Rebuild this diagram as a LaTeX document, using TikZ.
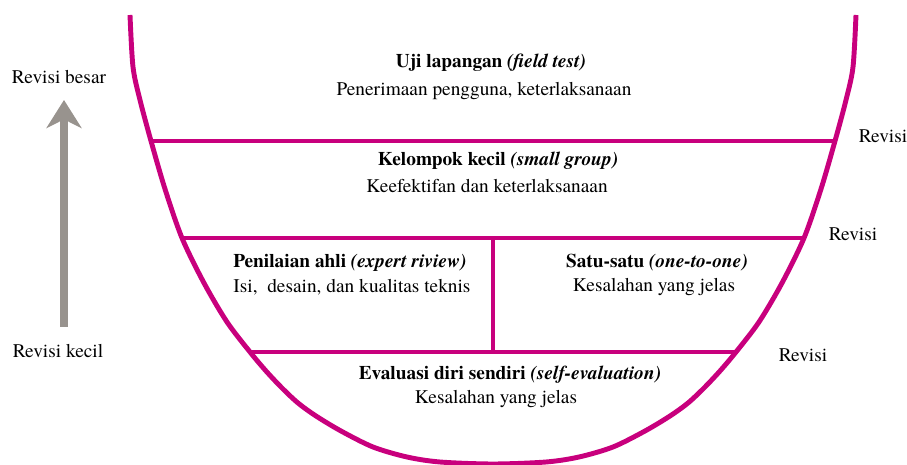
\documentclass[tikz,border=0pt]{standalone}
\usepackage{fontspec}
\setmainfont{texgyretermes}[Extension=.otf, UprightFont=*-regular, BoldFont=*-bold, ItalicFont=*-italic, BoldItalicFont=*-bolditalic]
\usepackage{tikz}
\usetikzlibrary{arrows.meta}
\definecolor{cupline}{RGB}{200,0,125}
\definecolor{arrowgray}{RGB}{152,147,142}

\begin{document}
\begin{tikzpicture}[x=0.02cm, y=-0.02cm,
        wall/.style={cupline, line width=2.8pt},
        lbl/.style={font=\fontsize{11}{13}\selectfont, inner sep=0pt},
        revarrow/.style={arrowgray, line width=4.5pt, -{Stealth[length=16pt, width=20pt, inset=5pt]}}]
        
        \useasboundingbox (0,0) rectangle (907,465);
        
        \draw [wall] plot [smooth] coordinates {(130,15) (133,67) (140,100) (151,141) (165,189) (182,238) (204,283) (227,322) (250,352) (266,371) (282,388) (298,403) (316,416) (341,431) (373,447) (407,457) (440,462) (493,464) (546,462) (579,457) (613,447) (645,431) (670,416) (688,403) (704,388) (720,371) (736,352) (759,322) (782,283) (804,238) (821,189) (835,141) (846,100) (853,67) (856,15)};
        
        \draw [wall] (151,141) -- (835,141);
        \draw [wall] (182,238) -- (804,238);
        \draw [wall] (250,352) -- (736,352);
        \draw [wall] (493,238) -- (493,352);
        
        \node [lbl] (ujiTitle) at (491,63) {\textbf{Uji lapangan \textit{(field test)}}};
        \node [lbl] (ujiText) at (484,91) {Penerimaan pengguna, keterlaksanaan};
        \node [lbl] (kelompokTitle) at (498,161) {\textbf{Kelompok kecil \textit{(small group)}}};
        \node [lbl] (kelompokText) at (487,186) {Keefektifan dan keterlaksanaan};
        \node [lbl] (ahliTitle) at (350,263) {\textbf{Penilaian ahli \textit{(expert riview)}}};
        \node [lbl] (ahliText) at (352,287) {Isi,\ \ desain, dan kualitas teknis};
        \node [lbl] (satuTitle) at (657,263) {\textbf{Satu-satu \textit{(one-to-one)}}};
        \node [lbl] (satuText) at (654,287) {Kesalahan yang jelas};
        \node [lbl] (diriTitle) at (510,375) {\textbf{Evaluasi diri sendiri \textit{(self-evaluation)}}};
        \node [lbl] (diriText) at (496,399) {Kesalahan yang jelas};
        
        \node [lbl] (revA) at (883,136) {Revisi};
        \node [lbl] (revB) at (853,234) {Revisi};
        \node [lbl] (revC) at (803,355) {Revisi};
        
        \node [lbl] (besar) at (59,77) {Revisi besar};
        \node [lbl] (kecil) at (58,351) {Revisi kecil};
        \coordinate (arrowLow) at (64,327);
        \coordinate (arrowHigh) at (64,100);
        \draw [revarrow] (arrowLow) -- (arrowHigh);
        
        \end{tikzpicture}
\end{document}
